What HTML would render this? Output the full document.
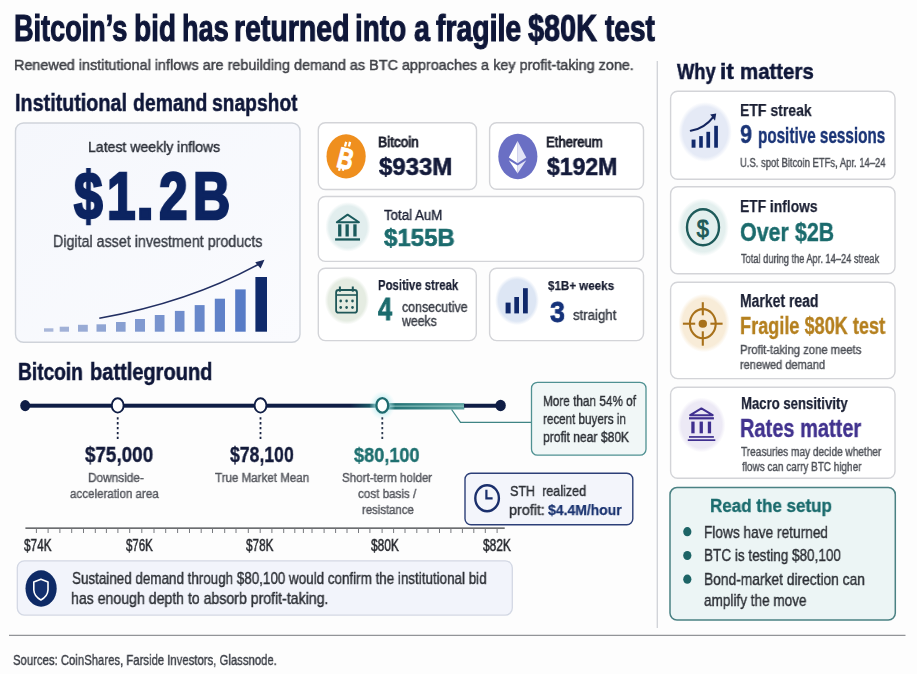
<!DOCTYPE html>
<html><head><meta charset="utf-8"><title>Bitcoin's bid has returned into a fragile $80K test</title>
<style>
html,body{margin:0;padding:0;}
body{width:917px;height:674px;position:relative;overflow:hidden;background:#fdfdfd;font-family:"Liberation Sans",Arial,sans-serif;}
.t{position:absolute;white-space:nowrap;transform-origin:0 0;will-change:transform;}
.b{position:absolute;box-sizing:border-box;}
svg{position:absolute;left:0;top:0;}
</style></head><body>
<svg width="917" height="674" viewBox="0 0 917 674">
<defs><linearGradient id="bigg" x1="0" y1="0" x2="1" y2="1"><stop offset="0" stop-color="#f5f7fc"/><stop offset="1" stop-color="#fafbfe"/></linearGradient><linearGradient id="barg" x1="0" y1="0" x2="1" y2="0"><stop offset="0" stop-color="#b4c2e0"/><stop offset="1" stop-color="#5175c3"/></linearGradient><linearGradient id="tl" x1="350" y1="0" x2="378" y2="0" gradientUnits="userSpaceOnUse"><stop offset="0" stop-color="#0f1d45"/><stop offset="1" stop-color="#1f6f72"/></linearGradient><linearGradient id="tband" x1="385" y1="0" x2="464" y2="0" gradientUnits="userSpaceOnUse"><stop offset="0" stop-color="#1d6d70"/><stop offset="1" stop-color="#5ea3a2"/></linearGradient><radialGradient id="glow"><stop offset="0.45" stop-color="#a8e6ec" stop-opacity="0.7"/><stop offset="1" stop-color="#d0f2f5" stop-opacity="0"/></radialGradient></defs>
<line x1="657.3" y1="61" x2="657.3" y2="628" stroke="#d2d4d9" stroke-width="1.4"/>
<line x1="9" y1="635.3" x2="905.5" y2="635.3" stroke="#929498" stroke-width="1.2"/>
<rect x="15.50" y="123.00" width="284.50" height="219.30" rx="8" fill="url(#bigg)" stroke="#cfd3da" stroke-width="1.4" />
<rect x="44" y="328.3" width="9.4" height="3.4" fill="rgb(169, 183, 217)"/>
<rect x="59.7" y="326.7" width="9.3" height="5.0" fill="rgb(161, 177, 215)"/>
<rect x="78" y="324.8" width="9.8" height="6.9" fill="rgb(153, 171, 213)"/>
<rect x="96.5" y="324.3" width="9.5" height="7.4" fill="rgb(144, 165, 211)"/>
<rect x="116" y="322" width="9.6" height="9.7" fill="rgb(136, 159, 209)"/>
<rect x="135" y="319" width="10.0" height="12.7" fill="rgb(128, 153, 208)"/>
<rect x="154.8" y="315" width="9.7" height="16.7" fill="rgb(120, 147, 206)"/>
<rect x="174.9" y="310.9" width="9.6" height="20.8" fill="rgb(112, 141, 204)"/>
<rect x="194.7" y="305.1" width="9.9" height="26.6" fill="rgb(103, 135, 202)"/>
<rect x="214.8" y="298.7" width="10.2" height="33.0" fill="rgb(95, 129, 200)"/>
<rect x="235.2" y="289.4" width="10.5" height="42.3" fill="rgb(87, 123, 198)"/>
<rect x="255.4" y="277" width="11.6" height="54.7" fill="#0f2a6b"/>
<path d="M99.3,318.3 Q190,302 259,264" fill="none" stroke="#222f62" stroke-width="1.6"/>
<path d="M264.5,259.8 L255.2,262.2 L260.6,268.6 Z" fill="#1c2b5e"/>
<rect x="318.30" y="122.80" width="158.20" height="66.70" rx="7" fill="#ffffff" stroke="#d3d4d8" stroke-width="1.4" />
<rect x="489.60" y="122.80" width="153.90" height="66.50" rx="7" fill="#ffffff" stroke="#d3d4d8" stroke-width="1.4" />
<rect x="318.30" y="196.50" width="325.20" height="64.90" rx="7" fill="#ffffff" stroke="#d3d4d8" stroke-width="1.4" />
<rect x="318.30" y="268.30" width="158.00" height="72.30" rx="7" fill="#ffffff" stroke="#d3d4d8" stroke-width="1.4" />
<rect x="489.60" y="268.30" width="153.90" height="72.30" rx="7" fill="#ffffff" stroke="#d3d4d8" stroke-width="1.4" />
<ellipse cx="346.1" cy="156.3" rx="19.6" ry="22.1" fill="#ef8f1e" />
<text x="0" y="0" transform="translate(335.4,166.4) rotate(14) scale(0.74,1)" font-family="Liberation Sans" font-weight="700" font-size="29.4" fill="#ffffff" stroke="#ffffff" stroke-width="1">B</text>
<rect x="344.45" y="141.80" width="2.3" height="4.8" fill="#fff" transform="rotate(14 345.6 144.2)"/>
<rect x="348.35" y="141.80" width="2.3" height="4.8" fill="#fff" transform="rotate(14 349.5 144.2)"/>
<rect x="338.45" y="166.10" width="2.3" height="4.8" fill="#fff" transform="rotate(14 339.6 168.5)"/>
<rect x="342.25" y="166.10" width="2.3" height="4.8" fill="#fff" transform="rotate(14 343.4 168.5)"/>
<ellipse cx="517.85" cy="156.4" rx="19.55" ry="22.75" fill="#6a6fc4" />
<path d="M517.6,140.9 L508.8,157.6 L517.6,163.2 Z" fill="#ffffff"/>
<path d="M517.6,140.9 L526.3,157.6 L517.6,163.2 Z" fill="#e3e4f6"/>
<path d="M508.8,160.2 L517.6,165.6 L517.6,173.5 Z" fill="#ffffff"/>
<path d="M526.3,160.2 L517.6,165.6 L517.6,173.5 Z" fill="#e3e4f6"/>
<radialGradient id="sg1"><stop offset="0" stop-color="#e2eeee"/><stop offset="0.84" stop-color="#e2eeee"/><stop offset="1" stop-color="#e2eeee" stop-opacity="0"/></radialGradient>
<ellipse cx="347.9" cy="226.9" rx="22.6" ry="24.840000000000003" fill="url(#sg1)"/>
<path d="M336.8,222.2 L347.6,214.6 L359.0,222.2 Z" fill="none" stroke="#1a5a5c" stroke-width="1.9" stroke-linejoin="round"/>
<rect x="338.1" y="224.3" width="3.3" height="12.2" fill="#1a5a5c"/>
<rect x="345.5" y="224.3" width="3.3" height="12.2" fill="#1a5a5c"/>
<rect x="353.3" y="224.3" width="3.3" height="12.2" fill="#1a5a5c"/>
<rect x="335.1" y="238.3" width="24.9" height="2.3" fill="#1a5a5c"/>
<radialGradient id="sg2"><stop offset="0" stop-color="#e5ece2"/><stop offset="0.84" stop-color="#e5ece2"/><stop offset="1" stop-color="#e5ece2" stop-opacity="0"/></radialGradient>
<ellipse cx="346.9" cy="300.2" rx="22.2" ry="24.439999999999998" fill="url(#sg2)"/>
<rect x="336.1" y="290" width="20.9" height="22.7" rx="2.5" fill="none" stroke="#1f5758" stroke-width="1.8"/>
<line x1="336.1" y1="295" x2="357" y2="295" stroke="#1f5758" stroke-width="1.6"/>
<line x1="339.9" y1="286.5" x2="339.9" y2="291.7" stroke="#1f5758" stroke-width="2"/>
<line x1="352.8" y1="286.5" x2="352.8" y2="291.7" stroke="#1f5758" stroke-width="2"/>
<ellipse cx="340.7" cy="301" rx="1.3" ry="1.4" fill="#1f5758"/>
<ellipse cx="346.6" cy="301" rx="1.3" ry="1.4" fill="#1f5758"/>
<ellipse cx="352.5" cy="301" rx="1.3" ry="1.4" fill="#1f5758"/>
<ellipse cx="340.7" cy="307.5" rx="1.3" ry="1.4" fill="#1f5758"/>
<ellipse cx="346.6" cy="307.5" rx="1.3" ry="1.4" fill="#1f5758"/>
<ellipse cx="352.5" cy="307.5" rx="1.3" ry="1.4" fill="#1f5758"/>
<radialGradient id="sg3"><stop offset="0" stop-color="#dde6f4"/><stop offset="0.84" stop-color="#dde6f4"/><stop offset="1" stop-color="#dde6f4" stop-opacity="0"/></radialGradient>
<ellipse cx="517" cy="300.4" rx="22.0" ry="24.740000000000002" fill="url(#sg3)"/>
<rect x="505.6" y="302.6" width="5.0" height="10.8" fill="#10296b"/>
<rect x="514.3" y="297" width="4.7" height="16.4" fill="#10296b"/>
<rect x="523" y="288.2" width="4.8" height="25.2" fill="#10296b"/>
<rect x="670.60" y="91.20" width="224.40" height="88.00" rx="7" fill="#ffffff" stroke="#d3d4d8" stroke-width="1.4" />
<rect x="670.60" y="186.70" width="224.40" height="87.00" rx="7" fill="#ffffff" stroke="#d3d4d8" stroke-width="1.4" />
<rect x="670.60" y="282.30" width="224.40" height="96.30" rx="7" fill="#ffffff" stroke="#d3d4d8" stroke-width="1.4" />
<rect x="670.60" y="387.30" width="224.40" height="90.90" rx="7" fill="#ffffff" stroke="#d3d4d8" stroke-width="1.4" />
<rect x="670.00" y="487.60" width="225.30" height="132.40" rx="7" fill="#ecf5f5" stroke="#4a8183" stroke-width="1.5" />
<radialGradient id="sg4"><stop offset="0" stop-color="#e5eaf6"/><stop offset="0.84" stop-color="#e5eaf6"/><stop offset="1" stop-color="#e5eaf6" stop-opacity="0"/></radialGradient>
<ellipse cx="705.2" cy="132" rx="26.7" ry="29.939999999999998" fill="url(#sg4)"/>
<rect x="691.6" y="139.6" width="3.9" height="8.1" fill="#10296b"/>
<rect x="699.2" y="136.1" width="3.6" height="11.6" fill="#10296b"/>
<rect x="706.4" y="131.8" width="3.7" height="15.9" fill="#10296b"/>
<rect x="714.2" y="125.8" width="3.7" height="21.9" fill="#10296b"/>
<path d="M690.8,130.7 Q704,129 713.6,116.6" fill="none" stroke="#14255e" stroke-width="2.1" stroke-linecap="round"/>
<path d="M716.2,113.6 L710.2,114.6 L715.0,120.8 Z" fill="#14255e"/>
<radialGradient id="sg5"><stop offset="0" stop-color="#e3efee"/><stop offset="0.84" stop-color="#e3efee"/><stop offset="1" stop-color="#e3efee" stop-opacity="0"/></radialGradient>
<ellipse cx="703.2" cy="227.2" rx="25.7" ry="29.04" fill="url(#sg5)"/>
<ellipse cx="703" cy="227.3" rx="16" ry="18" fill="none" stroke="#1d5a5a" stroke-width="2.4"/>
<text x="0" y="0" transform="translate(702.8,236.6) scale(0.89,1)" text-anchor="middle" font-family="Liberation Sans" font-size="24.5" fill="#1d5a5a" stroke="#1d5a5a" stroke-width="0.9">$</text>
<radialGradient id="sg6"><stop offset="0" stop-color="#f8ecd8"/><stop offset="0.84" stop-color="#f8ecd8"/><stop offset="1" stop-color="#f8ecd8" stop-opacity="0"/></radialGradient>
<ellipse cx="704" cy="323" rx="25.6" ry="29.240000000000002" fill="url(#sg6)"/>
<ellipse cx="702.8" cy="323.7" rx="12.9" ry="14.6" fill="none" stroke="#a8711a" stroke-width="2.1"/>
<line x1="702.8" y1="302.2" x2="702.8" y2="315.3" stroke="#a8711a" stroke-width="2.1"/>
<line x1="702.8" y1="331.3" x2="702.8" y2="345.7" stroke="#a8711a" stroke-width="2.1"/>
<line x1="682.9" y1="323.7" x2="695.2" y2="323.7" stroke="#a8711a" stroke-width="2.1"/>
<line x1="710.4" y1="323.7" x2="722.6" y2="323.7" stroke="#a8711a" stroke-width="2.1"/>
<ellipse cx="702.8" cy="323.7" rx="4.2" ry="4.0" fill="#a8711a"/>
<radialGradient id="sg7"><stop offset="0" stop-color="#ece9f5"/><stop offset="0.84" stop-color="#ece9f5"/><stop offset="1" stop-color="#ece9f5" stop-opacity="0"/></radialGradient>
<ellipse cx="701.5" cy="424.9" rx="24.0" ry="27.439999999999998" fill="url(#sg7)"/>
<path d="M690.2,415.2 L701.4,408.4 L712.7,415.2 Z" fill="none" stroke="#3f2f8f" stroke-width="2" stroke-linejoin="round"/>
<rect x="689" y="417.2" width="24.9" height="2.2" fill="#3f2f8f"/>
<rect x="691.3" y="421.6" width="3.3" height="11.7" fill="#3f2f8f"/>
<rect x="699.6" y="421.6" width="3.3" height="11.7" fill="#3f2f8f"/>
<rect x="707.8" y="421.6" width="3.3" height="11.7" fill="#3f2f8f"/>
<rect x="689" y="436.1" width="24.9" height="1.7" fill="#3f2f8f"/>
<rect x="687.8" y="439.3" width="27.5" height="1.7" fill="#3f2f8f"/>
<ellipse cx="687.3" cy="531.7" rx="4.1" ry="4.6" fill="#1d6466"/>
<ellipse cx="687.3" cy="555.5" rx="4.1" ry="4.6" fill="#1d6466"/>
<ellipse cx="687.3" cy="579.2" rx="4.1" ry="4.6" fill="#1d6466"/>
<rect x="25.2" y="403.7" width="360.8" height="4.0" fill="url(#tl)"/>
<rect x="385" y="403.1" width="79.3" height="6.4" fill="url(#tband)"/>
<rect x="390" y="405.4" width="74" height="1.6" fill="#9fd0cc" opacity="0.55"/>
<line x1="464" y1="405.7" x2="500" y2="405.7" stroke="#0f1d45" stroke-width="4.0"/>
<ellipse cx="25.2" cy="405.6" rx="5.0" ry="5.6" fill="#0f1d45" />
<ellipse cx="500.6" cy="405.5" rx="5.2" ry="5.8" fill="#0f1d45" />
<polyline points="451.6,409.5 460.5,422.3 531.5,422.3" fill="none" stroke="#3f8585" stroke-width="1.3"/>
<ellipse cx="382.3" cy="405.4" rx="13" ry="14.5" fill="url(#glow)" />
<ellipse cx="117.7" cy="405.4" rx="5.9" ry="7.2" fill="#ffffff" stroke="#0f1d45" stroke-width="1.9"/>
<line x1="117.7" y1="417.2" x2="117.7" y2="439.6" stroke="#1a2444" stroke-width="1.8" stroke-dasharray="2.3 2.6"/>
<ellipse cx="260.5" cy="405.4" rx="5.9" ry="7.2" fill="#ffffff" stroke="#0f1d45" stroke-width="1.9"/>
<line x1="260.5" y1="417.2" x2="260.5" y2="439.6" stroke="#1a2444" stroke-width="1.8" stroke-dasharray="2.3 2.6"/>
<ellipse cx="382.3" cy="405.4" rx="5.9" ry="7.2" fill="#ffffff" stroke="#1f6b6f" stroke-width="2.3"/>
<line x1="382.3" y1="417.2" x2="382.3" y2="439.6" stroke="#2c3a50" stroke-width="1.8" stroke-dasharray="2.3 2.6"/>
<rect x="531.50" y="382.30" width="114.50" height="72.90" rx="6" fill="#f1f7f7" stroke="#4f9192" stroke-width="1.3" />
<rect x="465.00" y="473.30" width="167.80" height="51.40" rx="6" fill="#f3f5fb" stroke="#2c3f78" stroke-width="1.4" />
<ellipse cx="487.1" cy="498.2" rx="11.8" ry="13" fill="none" stroke="#1a2f6c" stroke-width="2.4"/>
<polyline points="486.4,489.8 486.4,498.3 492.6,498.3" fill="none" stroke="#1a2f6c" stroke-width="2.2"/>
<line x1="25.4" y1="528.1" x2="504.7" y2="528.1" stroke="#3a3c40" stroke-width="1.3"/>
<line x1="36.4" y1="528.6" x2="36.4" y2="533" stroke="#77797e" stroke-width="1"/>
<line x1="48.1" y1="528.6" x2="48.1" y2="533" stroke="#77797e" stroke-width="1"/>
<line x1="59.9" y1="528.6" x2="59.9" y2="533" stroke="#77797e" stroke-width="1"/>
<line x1="71.7" y1="528.6" x2="71.7" y2="533" stroke="#77797e" stroke-width="1"/>
<line x1="83.5" y1="528.6" x2="83.5" y2="533" stroke="#77797e" stroke-width="1"/>
<line x1="95.3" y1="528.6" x2="95.3" y2="533" stroke="#77797e" stroke-width="1"/>
<line x1="106.4" y1="528.6" x2="106.4" y2="533" stroke="#77797e" stroke-width="1"/>
<line x1="117.9" y1="528.6" x2="117.9" y2="533" stroke="#77797e" stroke-width="1"/>
<line x1="129.7" y1="528.6" x2="129.7" y2="533" stroke="#77797e" stroke-width="1"/>
<line x1="141.8" y1="528.6" x2="141.8" y2="533" stroke="#77797e" stroke-width="1"/>
<line x1="154.0" y1="528.6" x2="154.0" y2="533" stroke="#77797e" stroke-width="1"/>
<line x1="165.7" y1="528.6" x2="165.7" y2="533" stroke="#77797e" stroke-width="1"/>
<line x1="177.6" y1="528.6" x2="177.6" y2="533" stroke="#77797e" stroke-width="1"/>
<line x1="189.5" y1="528.6" x2="189.5" y2="533" stroke="#77797e" stroke-width="1"/>
<line x1="201.2" y1="528.6" x2="201.2" y2="533" stroke="#77797e" stroke-width="1"/>
<line x1="212.5" y1="528.6" x2="212.5" y2="533" stroke="#77797e" stroke-width="1"/>
<line x1="224.7" y1="528.6" x2="224.7" y2="533" stroke="#77797e" stroke-width="1"/>
<line x1="236.0" y1="528.6" x2="236.0" y2="533" stroke="#77797e" stroke-width="1"/>
<line x1="248.3" y1="528.6" x2="248.3" y2="533" stroke="#77797e" stroke-width="1"/>
<line x1="260.2" y1="528.6" x2="260.2" y2="533" stroke="#77797e" stroke-width="1"/>
<line x1="271.9" y1="528.6" x2="271.9" y2="533" stroke="#77797e" stroke-width="1"/>
<line x1="283.7" y1="528.6" x2="283.7" y2="533" stroke="#77797e" stroke-width="1"/>
<line x1="294.8" y1="528.6" x2="294.8" y2="533" stroke="#77797e" stroke-width="1"/>
<line x1="303.4" y1="528.6" x2="303.4" y2="533" stroke="#77797e" stroke-width="1"/>
<line x1="312.0" y1="528.6" x2="312.0" y2="533" stroke="#77797e" stroke-width="1"/>
<line x1="324.1" y1="528.6" x2="324.1" y2="533" stroke="#77797e" stroke-width="1"/>
<line x1="335.6" y1="528.6" x2="335.6" y2="533" stroke="#77797e" stroke-width="1"/>
<line x1="347.0" y1="528.6" x2="347.0" y2="533" stroke="#77797e" stroke-width="1"/>
<line x1="358.5" y1="528.6" x2="358.5" y2="533" stroke="#77797e" stroke-width="1"/>
<line x1="369.9" y1="528.6" x2="369.9" y2="533" stroke="#77797e" stroke-width="1"/>
<line x1="382.1" y1="528.6" x2="382.1" y2="533" stroke="#77797e" stroke-width="1"/>
<line x1="393.6" y1="528.6" x2="393.6" y2="533" stroke="#77797e" stroke-width="1"/>
<line x1="405.0" y1="528.6" x2="405.0" y2="533" stroke="#77797e" stroke-width="1"/>
<line x1="416.8" y1="528.6" x2="416.8" y2="533" stroke="#77797e" stroke-width="1"/>
<line x1="428.0" y1="528.6" x2="428.0" y2="533" stroke="#77797e" stroke-width="1"/>
<line x1="439.5" y1="528.6" x2="439.5" y2="533" stroke="#77797e" stroke-width="1"/>
<line x1="450.9" y1="528.6" x2="450.9" y2="533" stroke="#77797e" stroke-width="1"/>
<line x1="462.4" y1="528.6" x2="462.4" y2="533" stroke="#77797e" stroke-width="1"/>
<line x1="473.8" y1="528.6" x2="473.8" y2="533" stroke="#77797e" stroke-width="1"/>
<line x1="485.3" y1="528.6" x2="485.3" y2="533" stroke="#77797e" stroke-width="1"/>
<line x1="497.1" y1="528.6" x2="497.1" y2="533" stroke="#77797e" stroke-width="1"/>
<rect x="17.30" y="560.80" width="495.00" height="54.30" rx="7" fill="#f2f4fb" stroke="#d3d8e4" stroke-width="1.3" />
<ellipse cx="41.1" cy="588.5" rx="15.6" ry="18.2" fill="#0e2a66" />
<path d="M40.9,579.2 L48.0,582.0 L48.0,590.0 Q47.6,596.4 40.9,600.0 Q34.2,596.4 33.8,590.0 L33.8,582.0 Z" fill="#13306e" stroke="#ffffff" stroke-width="1.6" stroke-linejoin="round"/>
</svg>
<div class="t" style="left:13.65px;top:11.25px;font-size:36.00px;line-height:36.00px;color:#0f1739;font-weight:700;transform:scaleX(0.7515);-webkit-text-stroke:1.1px #0f1739;">Bitcoin’s</div>
<div class="t" style="left:133.61px;top:11.25px;font-size:36.00px;line-height:36.00px;color:#0f1739;font-weight:700;transform:scaleX(0.7775);-webkit-text-stroke:1.1px #0f1739;">bid</div>
<div class="t" style="left:181.52px;top:11.25px;font-size:36.00px;line-height:36.00px;color:#0f1739;font-weight:700;transform:scaleX(0.7535);-webkit-text-stroke:1.1px #0f1739;">has</div>
<div class="t" style="left:233.88px;top:11.25px;font-size:36.00px;line-height:36.00px;color:#0f1739;font-weight:700;transform:scaleX(0.7907);-webkit-text-stroke:1.1px #0f1739;">returned</div>
<div class="t" style="left:355.17px;top:11.25px;font-size:36.00px;line-height:36.00px;color:#0f1739;font-weight:700;transform:scaleX(0.7759);-webkit-text-stroke:1.1px #0f1739;">into</div>
<div class="t" style="left:414.38px;top:11.25px;font-size:36.00px;line-height:36.00px;color:#0f1739;font-weight:700;transform:scaleX(0.7931);-webkit-text-stroke:1.1px #0f1739;">a</div>
<div class="t" style="left:435.81px;top:11.25px;font-size:36.00px;line-height:36.00px;color:#0f1739;font-weight:700;transform:scaleX(0.7884);-webkit-text-stroke:1.1px #0f1739;">fragile</div>
<div class="t" style="left:528.31px;top:11.25px;font-size:36.00px;line-height:36.00px;color:#0f1739;font-weight:700;transform:scaleX(0.8013);-webkit-text-stroke:1.1px #0f1739;">$80K</div>
<div class="t" style="left:605.15px;top:11.25px;font-size:36.00px;line-height:36.00px;color:#0f1739;font-weight:700;transform:scaleX(0.7778);-webkit-text-stroke:1.1px #0f1739;">test</div>
<div class="t" style="left:14.07px;top:58.29px;font-size:14.75px;line-height:14.75px;color:#3f4147;transform:scaleX(0.9755);-webkit-text-stroke:0.45px #3f4147;">Renewed institutional inflows are rebuilding demand as BTC approaches a key profit-taking zone.</div>
<div class="t" style="left:15.12px;top:90.96px;font-size:24.42px;line-height:24.42px;color:#0f1739;font-weight:700;transform:scaleX(0.8094);-webkit-text-stroke:0.5px #0f1739;">Institutional</div>
<div class="t" style="left:133.02px;top:90.96px;font-size:24.42px;line-height:24.42px;color:#0f1739;font-weight:700;transform:scaleX(0.7938);-webkit-text-stroke:0.5px #0f1739;">demand</div>
<div class="t" style="left:212.32px;top:90.96px;font-size:24.42px;line-height:24.42px;color:#0f1739;font-weight:700;transform:scaleX(0.7893);-webkit-text-stroke:0.5px #0f1739;">snapshot</div>
<div class="t" style="left:677.11px;top:61.45px;font-size:21.80px;line-height:21.80px;color:#0f1739;font-weight:700;transform:scaleX(0.8385);-webkit-text-stroke:0.5px #0f1739;">Why</div>
<div class="t" style="left:720.27px;top:61.45px;font-size:21.80px;line-height:21.80px;color:#0f1739;font-weight:700;transform:scaleX(1.0452);-webkit-text-stroke:0.5px #0f1739;">it</div>
<div class="t" style="left:739.71px;top:61.45px;font-size:21.80px;line-height:21.80px;color:#0f1739;font-weight:700;transform:scaleX(0.9348);-webkit-text-stroke:0.5px #0f1739;">matters</div>
<div class="t" style="left:88.06px;top:140.21px;font-size:14.97px;line-height:14.97px;color:#2b2f38;transform:scaleX(0.9402);-webkit-text-stroke:0.4px #2b2f38;">Latest weekly inflows</div>
<div class="t" style="left:74.17px;top:163.00px;font-size:65.99px;line-height:65.99px;color:#0c2461;font-weight:700;transform:scaleX(0.7800);-webkit-text-stroke:2.6px #0c2461;">$</div>
<div class="t" style="left:107.42px;top:163.00px;font-size:65.99px;line-height:65.99px;color:#0c2461;font-weight:700;transform:scaleX(0.7800);-webkit-text-stroke:2.6px #0c2461;">1</div>
<div class="t" style="left:136.33px;top:163.00px;font-size:65.99px;line-height:65.99px;color:#0c2461;font-weight:700;-webkit-text-stroke:2.6px #0c2461;">.</div>
<div class="t" style="left:158.75px;top:163.00px;font-size:65.99px;line-height:65.99px;color:#0c2461;font-weight:700;transform:scaleX(0.7800);-webkit-text-stroke:2.6px #0c2461;">2</div>
<div class="t" style="left:192.61px;top:163.00px;font-size:65.99px;line-height:65.99px;color:#0c2461;font-weight:700;transform:scaleX(0.7800);-webkit-text-stroke:2.6px #0c2461;">B</div>
<div class="t" style="left:52.83px;top:234.10px;font-size:16.86px;line-height:16.86px;color:#3a3e47;transform:scaleX(0.8467);-webkit-text-stroke:0.4px #3a3e47;">Digital asset investment products</div>
<div class="t" style="left:378.10px;top:135.61px;font-size:13.95px;line-height:13.95px;color:#1a1d2b;transform:scaleX(0.9769);-webkit-text-stroke:0.8px #1a1d2b;">Bitcoin</div>
<div class="t" style="left:378.54px;top:155.01px;font-size:24.27px;line-height:24.27px;color:#131a3a;font-weight:700;transform:scaleX(0.9874);-webkit-text-stroke:0.6px #131a3a;">$933M</div>
<div class="t" style="left:546.33px;top:135.61px;font-size:13.95px;line-height:13.95px;color:#1a1d2b;transform:scaleX(0.9387);-webkit-text-stroke:0.8px #1a1d2b;">Ethereum</div>
<div class="t" style="left:546.94px;top:155.01px;font-size:24.27px;line-height:24.27px;color:#131a3a;font-weight:700;transform:scaleX(0.9476);-webkit-text-stroke:0.6px #131a3a;">$192M</div>
<div class="t" style="left:384.10px;top:207.83px;font-size:14.03px;line-height:14.03px;color:#1a1f33;transform:scaleX(0.9484);-webkit-text-stroke:0.35px #1a1f33;">Total AuM</div>
<div class="t" style="left:384.13px;top:226.21px;font-size:24.56px;line-height:24.56px;color:#1b6b6d;font-weight:700;transform:scaleX(0.9795);-webkit-text-stroke:0.6px #1b6b6d;">$155B</div>
<div class="t" style="left:377.56px;top:277.88px;font-size:14.17px;line-height:14.17px;color:#1a1f33;font-weight:700;transform:scaleX(0.8030);-webkit-text-stroke:0.25px #1a1f33;">Positive streak</div>
<div class="t" style="left:378.15px;top:295.41px;font-size:30.81px;line-height:30.81px;color:#1b6b6d;font-weight:700;transform:scaleX(0.8273);-webkit-text-stroke:0.8px #1b6b6d;">4</div>
<div class="t" style="left:401.98px;top:300.10px;font-size:14.24px;line-height:14.24px;color:#3a3e47;transform:scaleX(0.8723);-webkit-text-stroke:0.4px #3a3e47;">consecutive</div>
<div class="t" style="left:402.47px;top:314.21px;font-size:14.24px;line-height:14.24px;color:#3a3e47;transform:scaleX(0.8614);-webkit-text-stroke:0.4px #3a3e47;">weeks</div>
<div class="t" style="left:548.14px;top:279.09px;font-size:13.30px;line-height:13.30px;color:#1a1f33;font-weight:700;transform:scaleX(0.8722);-webkit-text-stroke:0.25px #1a1f33;">$1B+ weeks</div>
<div class="t" style="left:550.08px;top:295.71px;font-size:30.38px;line-height:30.38px;color:#15327a;font-weight:700;transform:scaleX(0.8840);-webkit-text-stroke:0.8px #15327a;">3</div>
<div class="t" style="left:573.39px;top:308.10px;font-size:14.24px;line-height:14.24px;color:#3a3e47;transform:scaleX(0.9280);-webkit-text-stroke:0.4px #3a3e47;">straight</div>
<div class="t" style="left:740.19px;top:102.88px;font-size:16.93px;line-height:16.93px;color:#1a1f33;font-weight:700;transform:scaleX(0.8287);-webkit-text-stroke:0.25px #1a1f33;">ETF streak</div>
<div class="t" style="left:740.21px;top:121.10px;font-size:26.02px;line-height:26.02px;color:#1b3577;font-weight:700;transform:scaleX(0.8296);-webkit-text-stroke:0.4px #1b3577;">9</div>
<div class="t" style="left:757.93px;top:124.83px;font-size:21.73px;line-height:21.73px;color:#1b3577;font-weight:700;transform:scaleX(0.7026);-webkit-text-stroke:0.35px #1b3577;">positive sessions</div>
<div class="t" style="left:740.45px;top:157.60px;font-size:11.92px;line-height:11.92px;color:#4f5259;transform:scaleX(0.7939);-webkit-text-stroke:0.4px #4f5259;">U.S. spot Bitcoin ETFs, Apr. 14–24</div>
<div class="t" style="left:740.20px;top:197.79px;font-size:17.37px;line-height:17.37px;color:#1a1f33;font-weight:700;transform:scaleX(0.7959);-webkit-text-stroke:0.25px #1a1f33;">ETF inflows</div>
<div class="t" style="left:740.31px;top:219.61px;font-size:25.58px;line-height:25.58px;color:#1b6b6d;font-weight:700;transform:scaleX(0.8387);-webkit-text-stroke:0.4px #1b6b6d;">Over $2B</div>
<div class="t" style="left:740.97px;top:252.60px;font-size:12.06px;line-height:12.06px;color:#4f5259;transform:scaleX(0.7693);-webkit-text-stroke:0.4px #4f5259;">Total during the Apr. 14–24 streak</div>
<div class="t" style="left:740.19px;top:292.79px;font-size:17.51px;line-height:17.51px;color:#1a1f33;font-weight:700;transform:scaleX(0.7994);-webkit-text-stroke:0.25px #1a1f33;">Market read</div>
<div class="t" style="left:739.96px;top:314.83px;font-size:23.18px;line-height:23.18px;color:#b5801f;font-weight:700;transform:scaleX(0.7823);-webkit-text-stroke:0.35px #b5801f;">Fragile $80K test</div>
<div class="t" style="left:740.28px;top:344.22px;font-size:12.21px;line-height:12.21px;color:#4f5259;transform:scaleX(0.9221);-webkit-text-stroke:0.4px #4f5259;">Profit-taking zone meets</div>
<div class="t" style="left:740.46px;top:359.41px;font-size:12.21px;line-height:12.21px;color:#4f5259;transform:scaleX(0.9020);-webkit-text-stroke:0.4px #4f5259;">renewed demand</div>
<div class="t" style="left:740.74px;top:394.89px;font-size:17.37px;line-height:17.37px;color:#1a1f33;font-weight:700;transform:scaleX(0.7572);-webkit-text-stroke:0.25px #1a1f33;">Macro sensitivity</div>
<div class="t" style="left:740.34px;top:415.82px;font-size:25.07px;line-height:25.07px;color:#42338f;font-weight:700;transform:scaleX(0.7985);-webkit-text-stroke:0.35px #42338f;">Rates matter</div>
<div class="t" style="left:741.46px;top:445.60px;font-size:12.21px;line-height:12.21px;color:#4f5259;transform:scaleX(0.8262);-webkit-text-stroke:0.4px #4f5259;">Treasuries may decide whether</div>
<div class="t" style="left:741.51px;top:461.01px;font-size:12.21px;line-height:12.21px;color:#4f5259;transform:scaleX(0.8154);-webkit-text-stroke:0.4px #4f5259;">flows can carry BTC higher</div>
<div class="t" style="left:710.06px;top:496.83px;font-size:18.39px;line-height:18.39px;color:#1b6b6d;font-weight:700;transform:scaleX(0.9250);-webkit-text-stroke:0.35px #1b6b6d;">Read the setup</div>
<div class="t" style="left:703.67px;top:524.90px;font-size:16.57px;line-height:16.57px;color:#2d3036;transform:scaleX(0.8263);-webkit-text-stroke:0.4px #2d3036;">Flows have returned</div>
<div class="t" style="left:703.68px;top:547.50px;font-size:16.57px;line-height:16.57px;color:#2d3036;transform:scaleX(0.8170);-webkit-text-stroke:0.4px #2d3036;">BTC is testing $80,100</div>
<div class="t" style="left:703.66px;top:572.40px;font-size:16.57px;line-height:16.57px;color:#2d3036;transform:scaleX(0.8324);-webkit-text-stroke:0.4px #2d3036;">Bond-market direction can</div>
<div class="t" style="left:704.22px;top:592.60px;font-size:16.57px;line-height:16.57px;color:#2d3036;transform:scaleX(0.8184);-webkit-text-stroke:0.4px #2d3036;">amplify the move</div>
<div class="t" style="left:18.15px;top:359.66px;font-size:24.13px;line-height:24.13px;color:#0f1739;font-weight:700;transform:scaleX(0.7934);-webkit-text-stroke:0.5px #0f1739;">Bitcoin</div>
<div class="t" style="left:90.21px;top:359.66px;font-size:24.13px;line-height:24.13px;color:#0f1739;font-weight:700;transform:scaleX(0.8302);-webkit-text-stroke:0.5px #0f1739;">battleground</div>
<div class="t" style="left:85.49px;top:443.71px;font-size:21.22px;line-height:21.22px;color:#131a3a;font-weight:700;transform:scaleX(0.8888);-webkit-text-stroke:0.4px #131a3a;">$75,000</div>
<div class="t" style="left:87.54px;top:472.11px;font-size:12.50px;line-height:12.50px;color:#55575e;transform:scaleX(0.9447);-webkit-text-stroke:0.4px #55575e;">Downside-</div>
<div class="t" style="left:70.12px;top:488.41px;font-size:12.50px;line-height:12.50px;color:#55575e;transform:scaleX(0.9251);-webkit-text-stroke:0.4px #55575e;">acceleration area</div>
<div class="t" style="left:229.90px;top:443.81px;font-size:21.22px;line-height:21.22px;color:#131a3a;font-weight:700;transform:scaleX(0.8308);-webkit-text-stroke:0.4px #131a3a;">$78,100</div>
<div class="t" style="left:215.25px;top:472.11px;font-size:12.50px;line-height:12.50px;color:#55575e;transform:scaleX(0.9261);-webkit-text-stroke:0.4px #55575e;">True Market Mean</div>
<div class="t" style="left:353.60px;top:444.70px;font-size:20.64px;line-height:20.64px;color:#1f7070;font-weight:700;transform:scaleX(0.8798);-webkit-text-stroke:0.4px #1f7070;">$80,100</div>
<div class="t" style="left:342.06px;top:472.41px;font-size:12.50px;line-height:12.50px;color:#55575e;transform:scaleX(0.9267);-webkit-text-stroke:0.4px #55575e;">Short-term holder</div>
<div class="t" style="left:358.12px;top:488.01px;font-size:12.50px;line-height:12.50px;color:#55575e;transform:scaleX(0.9317);-webkit-text-stroke:0.4px #55575e;">cost basis /</div>
<div class="t" style="left:362.04px;top:503.61px;font-size:12.50px;line-height:12.50px;color:#55575e;transform:scaleX(0.9095);-webkit-text-stroke:0.4px #55575e;">resistance</div>
<div class="t" style="left:542.92px;top:394.01px;font-size:14.83px;line-height:14.83px;color:#2d3036;transform:scaleX(0.7939);-webkit-text-stroke:0.4px #2d3036;">More than 54% of</div>
<div class="t" style="left:543.10px;top:411.70px;font-size:14.83px;line-height:14.83px;color:#2d3036;transform:scaleX(0.7849);-webkit-text-stroke:0.4px #2d3036;">recent buyers in</div>
<div class="t" style="left:543.08px;top:430.01px;font-size:14.83px;line-height:14.83px;color:#2d3036;transform:scaleX(0.8160);-webkit-text-stroke:0.4px #2d3036;">profit near $80K</div>
<div class="t" style="left:509.61px;top:483.91px;font-size:14.54px;line-height:14.54px;color:#2d3036;transform:scaleX(0.8651);-webkit-text-stroke:0.4px #2d3036;">STH&nbsp; realized</div>
<div class="t" style="left:509.27px;top:502.51px;font-size:14.54px;line-height:14.54px;color:#2d3036;transform:scaleX(0.9859);-webkit-text-stroke:0.4px #2d3036;">profit:</div>
<div class="t" style="left:548.11px;top:502.58px;font-size:14.75px;line-height:14.75px;color:#1a3370;font-weight:700;transform:scaleX(0.9472);-webkit-text-stroke:0.25px #1a3370;">$4.4M/hour</div>
<div class="t" style="left:24.45px;top:537.58px;font-size:15.92px;line-height:15.92px;color:#26282e;transform:scaleX(0.7427);-webkit-text-stroke:0.45px #26282e;">$74K</div>
<div class="t" style="left:126.25px;top:537.58px;font-size:15.92px;line-height:15.92px;color:#26282e;transform:scaleX(0.7213);-webkit-text-stroke:0.45px #26282e;">$76K</div>
<div class="t" style="left:246.05px;top:537.58px;font-size:15.92px;line-height:15.92px;color:#26282e;transform:scaleX(0.7400);-webkit-text-stroke:0.45px #26282e;">$78K</div>
<div class="t" style="left:370.75px;top:537.58px;font-size:15.92px;line-height:15.92px;color:#26282e;transform:scaleX(0.7508);-webkit-text-stroke:0.45px #26282e;">$80K</div>
<div class="t" style="left:482.65px;top:537.58px;font-size:15.92px;line-height:15.92px;color:#26282e;transform:scaleX(0.7508);-webkit-text-stroke:0.45px #26282e;">$82K</div>
<div class="t" style="left:71.76px;top:571.11px;font-size:15.99px;line-height:15.99px;color:#2d3036;transform:scaleX(0.8392);-webkit-text-stroke:0.4px #2d3036;">Sustained demand through $80,100 would confirm the institutional bid</div>
<div class="t" style="left:71.39px;top:590.82px;font-size:15.99px;line-height:15.99px;color:#2d3036;transform:scaleX(0.8831);-webkit-text-stroke:0.4px #2d3036;">has enough depth to absorb profit-taking.</div>
<div class="t" style="left:13.34px;top:652.60px;font-size:14.68px;line-height:14.68px;color:#3d4048;transform:scaleX(0.7721);-webkit-text-stroke:0.4px #3d4048;">Sources: CoinShares, Farside Investors, Glassnode.</div>

</body></html>
